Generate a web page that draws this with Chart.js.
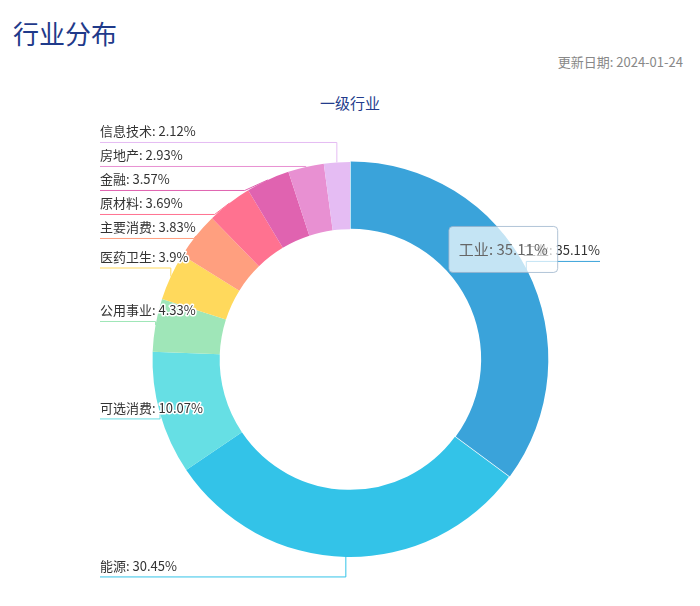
<!DOCTYPE html>
<html>
<head>
<meta charset="utf-8">
<script src="https://cdn.jsdelivr.net/npm/chart.js@4.4.1/dist/chart.umd.min.js"></script>
<style>
  html, body { margin: 0; padding: 0; background: #fff; }
  body { width: 700px; height: 606px; position: relative; overflow: hidden; font-family: 'Noto Sans CJK SC', sans-serif; }
  #title { position: absolute; left: 13px; top: 15px; font-size: 26px; line-height: 36px; color: #1f3a8a; }
  #date { position: absolute; right: 17px; top: 53px; font-size: 13px; line-height: 18px; color: #888; }
  #sub { position: absolute; left: 0; top: 93px; width: 700px; text-align: center; font-size: 15px; line-height: 20px; color: #233c8c; }
  canvas { position: absolute; left: 0; top: 0; }
</style>
</head>
<body>
<div id="title">行业分布</div>
<div id="date">更新日期: 2024-01-24</div>
<div id="sub">一级行业</div>
<canvas id="pie" width="700" height="606"></canvas>
<script>
// 数据
const categories = ['工业', '能源', '可选消费', '公用事业', '医药卫生', '主要消费', '原材料', '金融', '房地产', '信息技术'];
const weights = [35.11, 30.45, 10.07, 4.33, 3.9, 3.83, 3.69, 3.57, 2.93, 2.12];
const sliceColors = ['#3aa3da', '#33c3e8', '#66dfe4', '#9fe6b8', '#ffd95c', '#ff9f7f', '#ff7290', '#e063b0', '#e890d2', '#e5bcf3'];

const FONT = "'Noto Sans CJK SC', sans-serif";

// 标签 + 引导线
const leaderLabels = {
  id: 'leaderLabels',
  afterDatasetsDraw(chart) {
    const ctx = chart.ctx;
    const area = chart.chartArea;
    const arcs = chart.getDatasetMeta(0).data;
    const items = arcs.map((arc, i) => {
      const mid = (arc.startAngle + arc.endAngle) / 2;
      const dx = Math.cos(mid), dy = Math.sin(mid);
      const R = arc.outerRadius;
      return {
        i, dx, dy,
        ex: arc.x + dx * R,
        ey: arc.y + dy * R,
        y: arc.y + dy * (R + 20),
        left: dx < 0
      };
    });

    // 避免重叠：同侧按 y 排序往下推
    [true, false].forEach(side => {
      const list = items.filter(it => it.left === side).sort((a, b) => a.y - b.y);
      for (let k = 1; k < list.length; k++) {
        if (list[k].y < list[k - 1].y + 24) list[k].y = list[k - 1].y + 24;
      }
    });

    ctx.save();
    ctx.font = '13px ' + FONT;
    ctx.textBaseline = 'middle';
    items.forEach(it => {
      const dir = Math.sign(it.y - it.ey);
      let bx = it.ex;
      if (dir !== 0 && dir * it.dy < 0) {
        bx = it.ex + Math.sign(it.dx) * Math.abs(it.dy) * Math.abs(it.y - it.ey) / Math.abs(it.dx);
      }
      const text = categories[it.i] + ': ' + weights[it.i] + '%';
      const tx = it.left ? area.left : area.right;

      ctx.strokeStyle = sliceColors[it.i];
      ctx.lineWidth = 1;
      ctx.beginPath();
      ctx.moveTo(it.ex, it.ey);
      ctx.lineTo(bx, it.y);
      ctx.lineTo(tx, it.y);
      ctx.stroke();

      ctx.textAlign = it.left ? 'left' : 'right';
      ctx.lineJoin = 'round';
      ctx.strokeStyle = '#fff';
      ctx.lineWidth = 3;
      ctx.strokeText(text, tx, it.y - 11);
      ctx.fillStyle = '#333';
      ctx.fillText(text, tx, it.y - 11);
    });
    ctx.restore();
  }
};

Chart.Tooltip.positioners.nearArc = function (elements) {
  if (!elements.length) return false;
  const el = elements[0].element;
  const mid = (el.startAngle + el.endAngle) / 2;
  const r = el.outerRadius;
  return { x: el.x + Math.cos(mid) * r - 23, y: el.y + Math.sin(mid) * r - 21, xAlign: 'center', yAlign: 'center' };
};

const chart = new Chart(document.getElementById('pie'), {
  type: 'doughnut',
  data: {
    labels: categories,
    datasets: [{
      data: weights,
      backgroundColor: sliceColors,
      hoverBackgroundColor: sliceColors,
      borderWidth: 0,
      hoverBorderWidth: 0,
      hoverOffset: 3
    }]
  },
  options: {
    responsive: false,
    animation: false,
    cutout: '66%',
    layout: { padding: { left: 100, right: 100, top: 162, bottom: 49 } },
    plugins: {
      legend: { display: false },
      tooltip: {
        position: 'nearArc',
        animation: false,
        backgroundColor: 'rgba(255,255,255,0.7)',
        borderColor: 'rgba(150,175,200,0.75)',
        borderWidth: 1,
        cornerRadius: 4,
        caretSize: 0,
        displayColors: false,
        bodyColor: '#666',
        bodyFont: { family: FONT, size: 15 },
        padding: { left: 10, right: 10, top: 14, bottom: 14 },
        callbacks: {
          title: () => [],
          label: c => c.label + ': ' + c.parsed + '%'
        }
      }
    }
  },
  plugins: [leaderLabels]
});

// 默认高亮 工业
const active = [{ datasetIndex: 0, index: 0 }];
chart.setActiveElements(active);
chart.tooltip.setActiveElements(active, { x: 0, y: 0 });
chart.draw();
</script>
</body>
</html>
